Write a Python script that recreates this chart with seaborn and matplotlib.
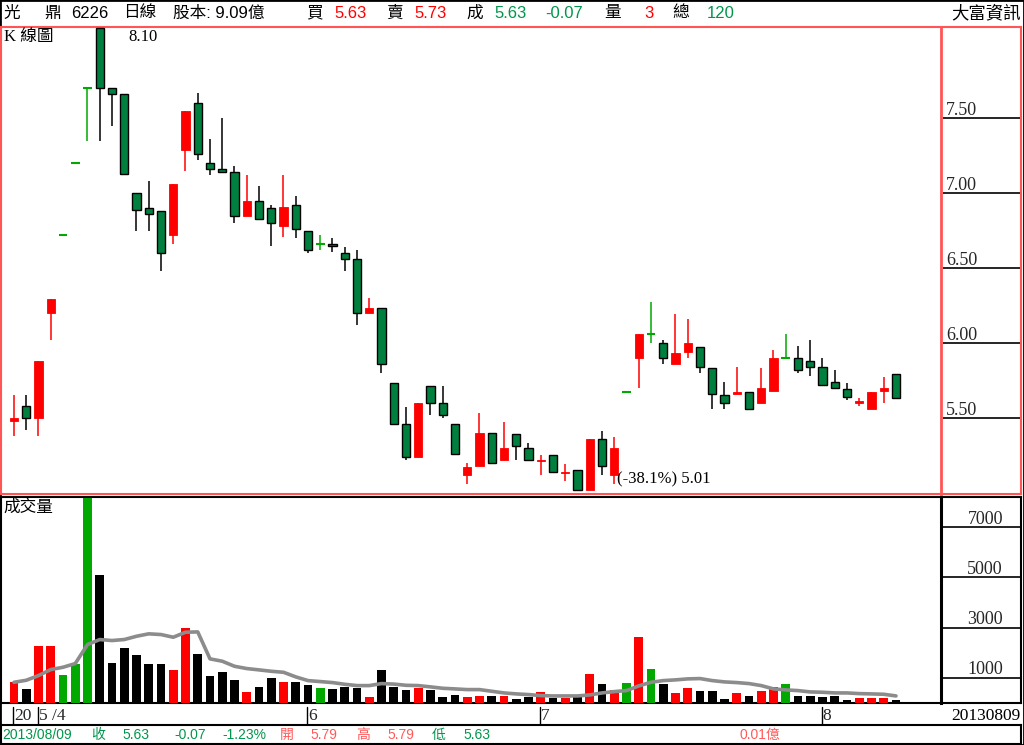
import matplotlib
matplotlib.use("Agg")
import matplotlib.pyplot as plt
import seaborn as sns
import numpy as np
import pandas as pd

# 6226 光鼎 日線 2013/04/29 - 2013/08/09
opens = [5.48, 5.58, 5.50, 6.20, 6.72, 7.20, 7.70, 8.10, 7.70, 7.66,
         7.00, 6.90, 6.88, 6.72, 7.29, 7.60, 7.20, 7.16, 7.14, 6.85,
         6.95, 6.90, 6.78, 6.92, 6.75, 6.66, 6.66, 6.60, 6.56, 6.20,
         6.23, 5.73, 5.46, 5.24, 5.71, 5.60, 5.46, 5.12, 5.18, 5.40,
         5.22, 5.39, 5.30, 5.21, 5.25, 5.13, 5.15, 5.02, 5.36, 5.12,
         5.67, 5.90, 6.06, 6.00, 5.86, 5.94, 5.97, 5.83, 5.65, 5.66,
         5.67, 5.60, 5.68, 5.90, 5.90, 5.88, 5.84, 5.74, 5.69, 5.60,
         5.56, 5.68, 5.79]
highs = [5.65, 5.65, 5.88, 6.29, 6.72, 7.20, 7.70, 8.10, 7.70, 7.66,
         7.00, 7.08, 6.88, 7.06, 7.55, 7.67, 7.36, 7.50, 7.18, 7.12,
         7.05, 6.92, 7.12, 6.98, 6.75, 6.72, 6.70, 6.64, 6.62, 6.30,
         6.23, 5.73, 5.57, 5.60, 5.71, 5.71, 5.46, 5.20, 5.53, 5.40,
         5.47, 5.39, 5.33, 5.25, 5.25, 5.19, 5.15, 5.36, 5.41, 5.37,
         5.67, 6.06, 6.27, 6.02, 6.19, 6.16, 5.97, 5.83, 5.74, 5.84,
         5.67, 5.83, 5.95, 6.06, 5.98, 6.02, 5.90, 5.82, 5.73, 5.63,
         5.67, 5.77, 5.79]
lows = [5.38, 5.42, 5.38, 6.02, 6.72, 7.20, 7.35, 7.35, 7.45, 7.13,
        6.75, 6.75, 6.48, 6.66, 7.15, 7.22, 7.12, 7.14, 6.80, 6.85,
        6.83, 6.65, 6.71, 6.70, 6.60, 6.62, 6.61, 6.48, 6.12, 6.20,
        5.80, 5.45, 5.22, 5.24, 5.52, 5.50, 5.26, 5.06, 5.18, 5.20,
        5.22, 5.22, 5.22, 5.12, 5.14, 5.08, 5.01, 5.02, 5.12, 5.06,
        5.67, 5.70, 6.00, 5.86, 5.86, 5.90, 5.80, 5.56, 5.56, 5.66,
        5.56, 5.60, 5.68, 5.90, 5.80, 5.78, 5.72, 5.70, 5.62, 5.58,
        5.56, 5.60, 5.63]
closes = [5.50, 5.50, 5.88, 6.29, 6.72, 7.20, 7.70, 7.70, 7.66, 7.13,
          6.89, 6.86, 6.60, 7.06, 7.55, 7.26, 7.16, 7.14, 6.85, 6.95,
          6.83, 6.80, 6.91, 6.76, 6.62, 6.66, 6.65, 6.56, 6.20, 6.23,
          5.86, 5.46, 5.24, 5.60, 5.60, 5.52, 5.26, 5.17, 5.40, 5.20,
          5.30, 5.31, 5.22, 5.22, 5.14, 5.14, 5.02, 5.36, 5.18, 5.30,
          5.67, 6.06, 6.06, 5.90, 5.93, 6.00, 5.84, 5.66, 5.60, 5.67,
          5.56, 5.70, 5.90, 5.90, 5.82, 5.84, 5.72, 5.70, 5.64, 5.61,
          5.67, 5.70, 5.63]
volumes = [825, 574, 2259, 2259, 1131, 1543, 8143, 5076, 1610, 2207,
           1902, 1570, 1570, 1331, 3004, 1942, 1092, 1251, 932, 454,
           653, 1012, 853, 853, 733, 614, 574, 653, 614, 255,
           1331, 653, 534, 614, 534, 255, 335, 255, 295, 295,
           295, 175, 255, 454, 215, 215, 255, 1171, 773, 534,
           813, 2645, 1371, 773, 414, 614, 494, 494, 175, 414,
           295, 494, 653, 773, 295, 295, 255, 295, 135, 215,
           215, 215, 120]
vol_ma = [825, 905, 1092, 1331, 1423, 1570, 2327, 2526, 2486, 2526,
          2657, 2753, 2725, 2618, 2817, 2830, 1757, 1663, 1462, 1371,
          1318, 1263, 1223, 1040, 892, 853, 813, 745, 693, 693,
          773, 753, 705, 693, 641, 586, 561, 534, 534, 467,
          401, 362, 335, 295, 281, 281, 281, 321, 401, 454,
          494, 680, 825, 892, 920, 960, 973, 892, 840, 813,
          773, 693, 561, 521, 494, 441, 428, 401, 401, 374,
          362, 348, 281]

# 月份分隔 (年份標籤被 5 月蓋住, 只露出 "20" 與 "/4")
month_pos = [0, 2, 24, 43, 66]
month_labels = ["20", "5 /4", "6", "7", "8"]
price_ticks = [5.50, 6.00, 6.50, 7.00, 7.50]
vol_ticks = [1000, 3000, 5000, 7000]

RED = "#ff0000"
DKGREEN = "#007f3f"
GREEN = "#00a800"
TXTGREEN = "#00964b"
FRAME_RED = "#ff5555"
SANS = ["Liberation Sans", "Noto Sans CJK TC"]
SERIF = ["Liberation Serif", "Noto Sans CJK TC"]

df = pd.DataFrame({"open": opens, "high": highs, "low": lows,
                   "close": closes, "volume": volumes, "ma": vol_ma})
df["idx"] = np.arange(len(df))
df["kind"] = np.where(df.close > df.open, "up",
                      np.where(df.close < df.open, "down", "flat"))

sns.set_style("white")
W, H = 1024, 745
fig = plt.figure(figsize=(W / 100, H / 100), dpi=100)


def box(x0, y0, x1, y1):
    return [x0 / W, 1 - y1 / H, (x1 - x0) / W, (y1 - y0) / H]


def bare(ax, color="black", lw=1.5):
    ax.set_xticks([])
    ax.set_yticks([])
    for s in ax.spines.values():
        s.set_visible(True)
        s.set_color(color)
        s.set_linewidth(lw)


def ftext(x, y, s, color="black", size=12, family=SANS, ha="left"):
    fig.text(x / W, 1 - y / H, s, color=color, fontsize=size,
             family=family, ha=ha, va="center")


ax_bg = fig.add_axes([0, 0, 1, 1])
bare(ax_bg, "black", 2)

xlim = ((2 - 14) / 12.25, (941 - 14) / 12.25)
plim = (4.993, 8.107)
vlim = (0, 8200)

# ---- K 線 ----
ax_pf = fig.add_axes(box(1, 27, 1021, 494))
bare(ax_pf, FRAME_RED, 1.5)
ax_pf.set_xlim(1, 1021)
ax_pf.set_ylim(*plim)
ax_pf.hlines(price_ticks, 943, 1020, color="black", lw=1.2)
for t in price_ticks:
    ax_pf.text(946, t + 0.018, f"{t:.2f}", family=SERIF, fontsize=13,
               va="baseline", ha="left")

ax_p = fig.add_axes(box(2, 27, 941, 494))
ax_p.set_facecolor("none")
bare(ax_p)
for k in ("top", "left", "bottom"):
    ax_p.spines[k].set_visible(False)
ax_p.spines["right"].set_color(FRAME_RED)
ax_p.spines["right"].set_linewidth(2)

wick_col = {"up": RED, "down": "black", "flat": GREEN}
for kind, col in wick_col.items():
    sub = df[df.kind == kind]
    ax_p.vlines(sub.idx, sub.low, sub.high, color=col, lw=1.1, zorder=1)
up = df[df.kind == "up"]
ax_p.bar(up.idx, up.close - up.open, bottom=up.open, width=0.68,
         color=RED, edgecolor=RED, lw=0.6, zorder=2)
dn = df[df.kind == "down"]
ax_p.bar(dn.idx, dn.open - dn.close, bottom=dn.close, width=0.68,
         color=DKGREEN, edgecolor="black", lw=1.0, zorder=2)
fl = df[df.kind == "flat"]
ax_p.hlines(fl.open, fl.idx - 0.36, fl.idx + 0.36, color=GREEN, lw=1.5, zorder=2)
ax_p.set_xlim(*xlim)
ax_p.set_ylim(*plim)

# ---- 成交量 ----
ax_vf = fig.add_axes(box(1, 497, 1021, 703))
bare(ax_vf, "black", 1.5)
ax_vf.set_xlim(1, 1021)
ax_vf.set_ylim(*vlim)
ax_vf.hlines(vol_ticks, 943, 1020, color="black", lw=1.2)
for t in vol_ticks:
    ax_vf.text(1003, t + 140, f"{t}", family=SERIF, fontsize=13,
               va="baseline", ha="right")

ax_v = fig.add_axes(box(2, 497, 941, 703))
ax_v.set_facecolor("none")
sns.barplot(x=df.idx, y=df.volume, hue=df.kind, native_scale=True,
            palette={"up": RED, "down": "black", "flat": GREEN},
            width=0.71, dodge=False, saturation=1, linewidth=0,
            legend=False, ax=ax_v)
sns.lineplot(x=df.idx, y=df.ma, color="#8c8c8c", lw=2.6, ax=ax_v, zorder=5)
bare(ax_v)
for k in ("top", "left", "bottom"):
    ax_v.spines[k].set_visible(False)
ax_v.spines["right"].set_linewidth(2.2)
ax_v.set_xlabel("")
ax_v.set_ylabel("")
ax_v.set_xlim(*xlim)
ax_v.set_ylim(*vlim)

# 日期列
tr = ax_v.get_xaxis_transform()
for p, lab in zip(month_pos, month_labels):
    ax_v.plot([p - 0.08, p - 0.08], [-0.02, -0.1], color="black", lw=1,
              transform=tr, clip_on=False)
    ax_v.text(p + 0.02, -0.062, lab, transform=tr, family=SERIF, fontsize=12.5,
              va="center", ha="left", clip_on=False)
ftext(1020, 716, "20130809", family=SERIF, size=12.5, ha="right")

# 資訊列
ax_i = fig.add_axes(box(1, 725, 1021, 744))
bare(ax_i, "black", 1.5)

# ---- 標頭 ----
LRED = "#ff5a5a"
header = [(3, "光", "black"), (44, "鼎", "black"), (71, "6226", "black"),
          (123, "日線", "black"), (173, "股本: 9.09億", "black"),
          (306, "買", "black"), (334, "5.63", RED), (386, "賣", "black"),
          (414, "5.73", RED), (466, "成", "black"), (494, "5.63", TXTGREEN),
          (545, "-0.07", TXTGREEN), (604, "量", "black"), (644, "3", RED),
          (672, "總", "black"), (707, "120", TXTGREEN)]
for x, s, c in header:
    ftext(x, 13, s, color=c, size=12)
ftext(1021, 13, "大富資訊", size=12.5, ha="right")

info = [(2, "2013/08/09", TXTGREEN), (91, "收", TXTGREEN), (122, "5.63", TXTGREEN),
        (174, "-0.07", TXTGREEN), (222, "-1.23%", TXTGREEN), (280, "開", LRED),
        (310, "5.79", LRED), (356, "高", LRED), (387, "5.79", LRED),
        (432, "低", TXTGREEN), (463, "5.63", TXTGREEN), (739, "0.01億", LRED)]
for x, s, c in info:
    ftext(x, 735, s, color=c, size=10)

ftext(4, 37, "K 線圖", family=SERIF, size=12)
ftext(128, 37, "8.10", family=SERIF, size=12)
ftext(3, 507, "成交量", size=12)
ftext(617, 479, "(-38.1%) 5.01", family=SERIF, size=12)

fig.savefig("out.png", dpi=100, facecolor="white")
